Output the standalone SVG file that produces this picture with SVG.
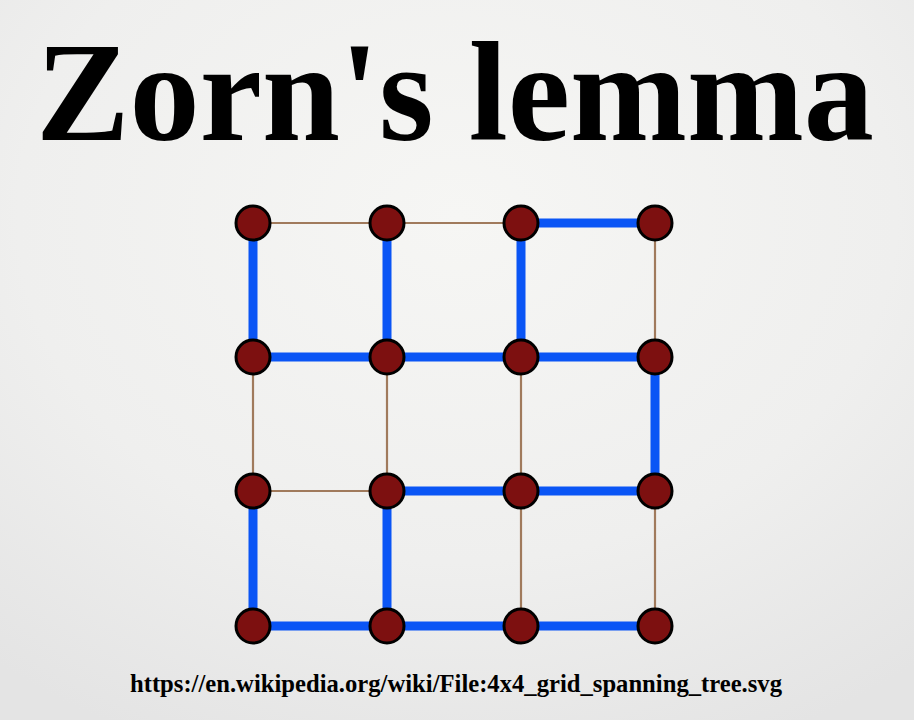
<svg xmlns="http://www.w3.org/2000/svg" width="914" height="720" viewBox="0 0 914 720">
<defs>
<radialGradient id="bg" cx="0.5" cy="0.3" r="0.8">
<stop offset="0" stop-color="#f6f6f4"/>
<stop offset="0.6" stop-color="#efefee"/>
<stop offset="1" stop-color="#e4e4e4"/>
</radialGradient>
<style>
.title{font-family:"Liberation Serif","Times New Roman",serif;font-weight:bold;fill:#000}
.tree{stroke:#0a55f5;stroke-width:9;stroke-linecap:butt;fill:none}
.thin{stroke:#a07a5c;stroke-width:2.2;fill:none}
.node{fill:#7d1010;stroke:#000;stroke-width:3}
</style>
</defs>
<rect width="914" height="720" fill="url(#bg)"/>
<text class="title" x="36" y="140" font-size="141" textLength="838" lengthAdjust="spacingAndGlyphs">Zorn's lemma</text>
<g id="connectors">
<line class="thin" x1="253" y1="223" x2="387" y2="223"/>
<line class="thin" x1="387" y1="223" x2="521" y2="223"/>
<line class="tree" x1="521" y1="223" x2="655" y2="223"/>
<line class="tree" x1="253" y1="357" x2="387" y2="357"/>
<line class="tree" x1="387" y1="357" x2="521" y2="357"/>
<line class="tree" x1="521" y1="357" x2="655" y2="357"/>
<line class="thin" x1="253" y1="491" x2="387" y2="491"/>
<line class="tree" x1="387" y1="491" x2="521" y2="491"/>
<line class="tree" x1="521" y1="491" x2="655" y2="491"/>
<line class="tree" x1="253" y1="626" x2="387" y2="626"/>
<line class="tree" x1="387" y1="626" x2="521" y2="626"/>
<line class="tree" x1="521" y1="626" x2="655" y2="626"/>
<line class="tree" x1="253" y1="223" x2="253" y2="357"/>
<line class="thin" x1="253" y1="357" x2="253" y2="491"/>
<line class="tree" x1="253" y1="491" x2="253" y2="626"/>
<line class="tree" x1="387" y1="223" x2="387" y2="357"/>
<line class="thin" x1="387" y1="357" x2="387" y2="491"/>
<line class="tree" x1="387" y1="491" x2="387" y2="626"/>
<line class="tree" x1="521" y1="223" x2="521" y2="357"/>
<line class="thin" x1="521" y1="357" x2="521" y2="491"/>
<line class="thin" x1="521" y1="491" x2="521" y2="626"/>
<line class="thin" x1="655" y1="223" x2="655" y2="357"/>
<line class="tree" x1="655" y1="357" x2="655" y2="491"/>
<line class="thin" x1="655" y1="491" x2="655" y2="626"/>
</g>
<g id="n11"><circle class="node" cx="253" cy="223" r="17"/></g>
<g id="n12"><circle class="node" cx="387" cy="223" r="17"/></g>
<g id="n13"><circle class="node" cx="521" cy="223" r="17"/></g>
<g id="n14"><circle class="node" cx="655" cy="223" r="17"/></g>
<g id="n21"><circle class="node" cx="253" cy="357" r="17"/></g>
<g id="n22"><circle class="node" cx="387" cy="357" r="17"/></g>
<g id="n23"><circle class="node" cx="521" cy="357" r="17"/></g>
<g id="n24"><circle class="node" cx="655" cy="357" r="17"/></g>
<g id="n31"><circle class="node" cx="253" cy="491" r="17"/></g>
<g id="n32"><circle class="node" cx="387" cy="491" r="17"/></g>
<g id="n33"><circle class="node" cx="521" cy="491" r="17"/></g>
<g id="n34"><circle class="node" cx="655" cy="491" r="17"/></g>
<g id="n41"><circle class="node" cx="253" cy="626" r="17"/></g>
<g id="n42"><circle class="node" cx="387" cy="626" r="17"/></g>
<g id="n43"><circle class="node" cx="521" cy="626" r="17"/></g>
<g id="n44"><circle class="node" cx="655" cy="626" r="17"/></g>
<text class="title" x="130" y="692" font-size="25" textLength="652" lengthAdjust="spacingAndGlyphs">https://en.wikipedia.org/wiki/File:4x4_grid_spanning_tree.svg</text>
</svg>
